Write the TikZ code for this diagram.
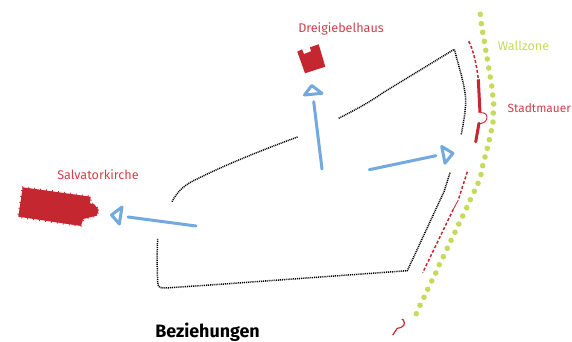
\documentclass[tikz,border=0pt]{standalone}
\usepackage{xcolor}
\usepackage{fontspec}
\setmainfont{Fira Sans}
\usepackage{tikz}
\usetikzlibrary{decorations.pathreplacing}
\definecolor{mauerred}{HTML}{C4272F}
\definecolor{labelred}{HTML}{CF3F49}
\definecolor{wallgreen}{HTML}{C5DB5C}
\definecolor{pfeilblue}{HTML}{72A9DE}

\begin{document}
\begin{tikzpicture}[x=1pt, y=-1pt]
\tikzstyle{redlabel}=[text=labelred, font=\fontsize{12.6}{14}\selectfont, inner sep=0pt]
\tikzstyle{greenlabel}=[text=wallgreen, font=\fontsize{12.6}{14}\selectfont, inner sep=0pt]
\tikzstyle{pfeil}=[draw=pfeilblue, line width=3pt, line cap=round]
\tikzstyle{spitze}=[draw=pfeilblue, line width=3pt, line join=round]
\tikzstyle{bezug}=[draw=black, line width=1.5pt, dash pattern=on 1pt off 0.9pt, line join=round]
\tikzstyle{bau}=[fill=mauerred, draw=none]
\tikzstyle{mauer}=[draw=mauerred, line width=3pt]
\tikzstyle{mauerdash}=[draw=mauerred, line width=1.5pt, dash pattern=on 3pt off 2pt]
\tikzstyle{wallpunkt}=[fill=wallgreen, draw=none]
\useasboundingbox (0,0) rectangle (572,342);

% Texte
\node[redlabel] (Dreigiebel) at (341,29) {Dreigiebelhaus};
\node[greenlabel] (Wallzone) at (523.5,46) {Wallzone};
\node[redlabel, font=\fontsize{11.9}{14}\selectfont] (Stadtmauer) at (539.3,108) {Stadtmauer};
\node[redlabel] (Salvator) at (98,175) {Salvatorkirche};
\node[font=\fontsize{17.9}{20}\selectfont\bfseries, inner sep=0pt] (Beziehungen) at (207.5,332) {Beziehungen};

% Gebaeude
\draw[bau] (297.3,51.7) -- (302,49.3) -- (304,54) -- (311,51.3) -- (310,47.3) -- (318.7,44.3)
  -- (325.3,66.7) -- (305,73.3) -- cycle;
\path[bau, postaction={draw=mauerred, line width=0.8pt, decorate,
    decoration={ticks, segment length=6pt, amplitude=1.2pt}}]
  (22.7,187.3) -- (90.7,196.7) -- (90,203.3) -- (94.3,204.3) -- (98.7,210) -- (96.7,215.7)
  -- (83.3,219) -- (81,226) -- (18.3,216.7) -- cycle;

% Beziehungslinien
\draw[bezug] (172,201.7) .. controls (178,190) and (186,184) .. (197,179)
  .. controls (225,165) and (262,150) .. (298.3,136.7);
\draw[bezug] (338.7,118.3) .. controls (355,110) and (370,102) .. (383,92.7)
  -- (454.3,49.3) -- (461.7,76.7) .. controls (465,90) and (466,98) .. (465.7,103.3)
  .. controls (465,115) and (463,125) .. (461.3,134.3);
\draw[bezug] (450,172.7) -- (444,191.7) -- (407.3,270.7) -- (210,285) -- (165,288)
  .. controls (159,288.3) and (157.7,286) .. (157.7,282)
  .. controls (157,265) and (157,250) .. (157.7,238.3);

% Pfeile
\coordinate (S1) at (196,226);
\coordinate (S2) at (128,217);
\coordinate (D1) at (322,169);
\coordinate (D2) at (313.7,101.7);
\coordinate (M1) at (369.3,169.7);
\coordinate (M2) at (436,155.7);
\path[pfeil] (S1) edge (S2)
(D1) edge (D2)
(M1) edge (M2);
\draw[spitze] (111.5,215) -- (122,207) -- (119.3,224) -- cycle;
\draw[spitze] (311.7,85.5) -- (304.5,95) -- (322,93.3) -- cycle;
\draw[spitze] (441.7,146.5) -- (453,153.3) -- (445,163.2) -- cycle;

% Stadtmauer
\draw[mauerdash] (468.7,41.3) .. controls (472,47) and (476,60) .. (478.3,79.3);
\draw[mauer] (478.3,79.3) -- (480,112.7);
\draw[draw=mauerred, line width=0.9pt] (480,112.7) .. controls (485,112) and (487.5,115) .. (487,118)
  .. controls (486.5,122) and (482,124) .. (479,123.3);
\draw[mauer, line cap=round] (479,123.3) -- (475.7,141.8);
\draw[mauerdash] (467.3,171.7) -- (458.3,200);
\draw[draw=mauerred, line width=0.8pt] (458.3,200) -- (453.3,209.3);
\draw[mauerdash] (453.3,209.3) -- (422.7,272.7);
\draw[draw=mauerred, line width=1.2pt] (392.7,335) -- (397.3,328.3)
  .. controls (401,328) and (405,326) .. (404.3,322.5)
  .. controls (404,320) and (402.5,319) .. (401.7,319.3);

% Wallzone
\foreach \x/\y in {480.3/14.3,481.3/23.7,482.7/32.3,484.3/41.3,485.7/50.3,487.3/59,488.7/68,
  490.3/77,491.7/86,492.7/95,493.7/104,493.3/113,493/122,491.3/130.7,489.3/139.7,487.3/148.3,
  485/157,482.7/165.7,481/174.5,478/183.3,474.3/191.3,470.3/199.7,466.7/207.7,462.7/216,
  458.7/224,455/232.3,451/240.3,447.3/248.3,443.3/256.7,439.3/264.7,435.7/273,431.7/281,
  427.7/289.3,424/297.3,420/305.3,416.3/313.7}
  \fill[wallpunkt] (\x,\y) circle (2.8pt);
\end{tikzpicture}
\end{document}
